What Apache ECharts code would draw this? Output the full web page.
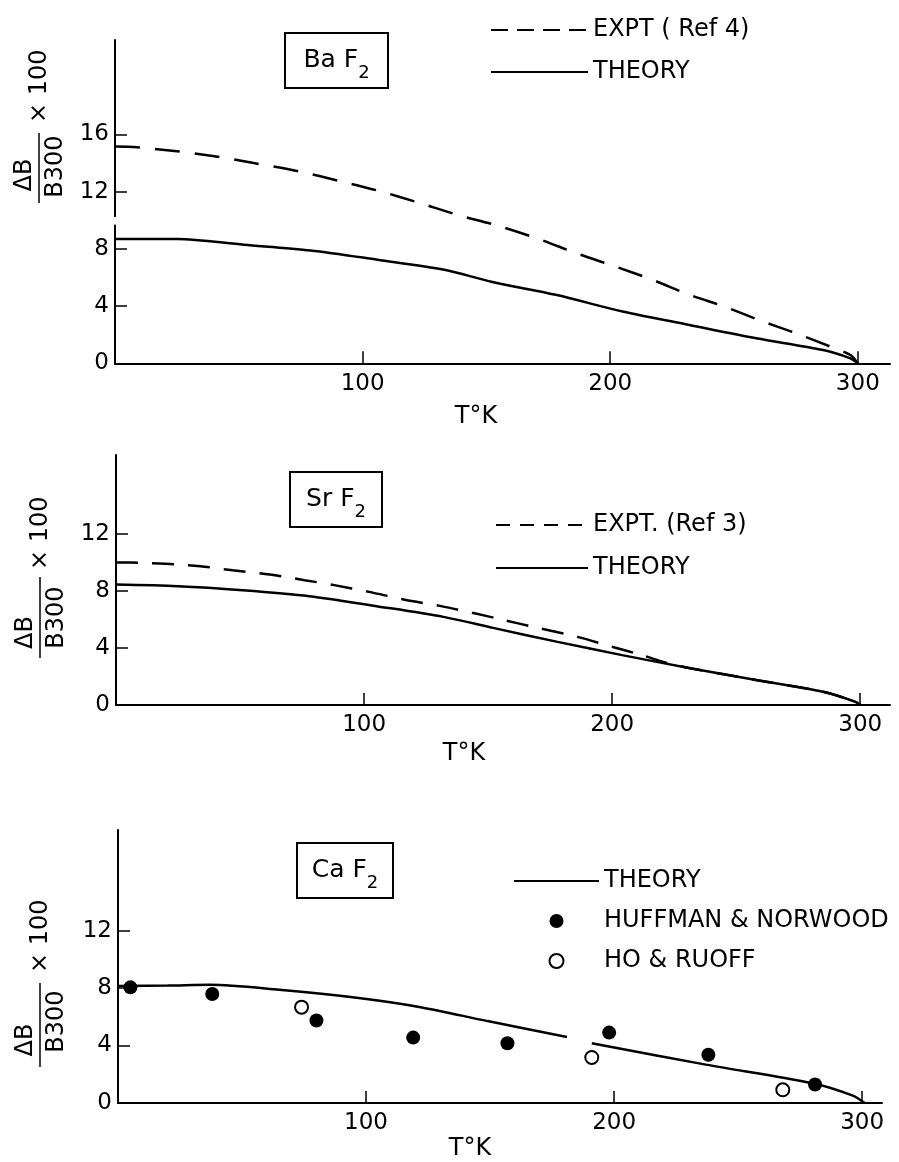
<!DOCTYPE html>
<html><head><meta charset="utf-8">
<script src="https://cdn.jsdelivr.net/npm/echarts@6/dist/echarts.min.js"></script>
<style>html,body{margin:0;padding:0;background:#fff}#c{width:899px;height:1162px}</style>
</head><body><div id="c"></div>
<script>
// ---------- Panel 1: BaF2 ----------
const baExptT = [0, 5, 21, 38, 56, 74, 91, 107, 123, 138, 154, 172, 186, 202, 217, 232, 246, 260, 275, 289, 297, 300];
const baExpt  = [15.15, 15.14, 14.9, 14.53, 14.0, 13.43, 12.73, 12.03, 11.21, 10.39, 9.65, 8.64, 7.71, 6.77, 5.84, 4.79, 3.97, 3.03, 2.1, 1.16, 0.58, 0];
const baTheoryT = [0, 25, 52, 79, 106, 133, 152, 178, 205, 232, 259, 286, 297, 300];
const baTheory  = [8.69, 8.69, 8.29, 7.89, 7.24, 6.54, 5.7, 4.79, 3.62, 2.68, 1.75, 0.93, 0.35, 0];

// ---------- Panel 2: SrF2 ----------
const srExptT = [0, 6, 20, 34, 47, 62, 76, 88, 102, 116, 131, 145, 155, 171, 186, 201, 212, 222, 232, 258, 285, 298, 300];
const srExpt  = [9.97, 9.97, 9.88, 9.71, 9.43, 9.13, 8.74, 8.39, 7.92, 7.38, 6.92, 6.4, 6.0, 5.36, 4.77, 4.03, 3.49, 2.95, 2.56, 1.75, 0.93, 0.23, 0];
const srTheoryT = [0, 25, 51, 78, 105, 132, 152, 178, 204, 232, 258, 285, 298, 300];
const srTheory  = [8.43, 8.32, 8.04, 7.62, 6.92, 6.17, 5.4, 4.42, 3.49, 2.56, 1.75, 0.93, 0.23, 0];

// ---------- Panel 3: CaF2 ----------
const caTheoryT = [0, 20, 37, 65, 97, 122, 149, 181, 186, 191, 237, 280, 296, 301];
const caTheory  = [8.15, 8.17, 8.23, 7.88, 7.31, 6.67, 5.7, 4.6, '-', 4.16, 2.67, 1.38, 0.53, 0];
const caHuffT = [5, 38, 80, 119, 157, 198, 238, 281];
const caHuff  = [8.05, 7.59, 5.74, 4.55, 4.16, 4.9, 3.36, 1.29];
const caHoT = [74, 191, 268];
const caHo  = [6.67, 3.17, 0.92];

// ---------- Ticks / labels ----------
const xTicks = [100, 200, 300];
const yTicks1 = [4, 8, 12, 16];
const yLabels1 = [0, 4, 8, 12, 16];
const yTicks23 = [4, 8, 12];
const yLabels23 = [0, 4, 8, 12];

const FONT = "'DejaVu Sans', sans-serif";
const pairs = (xs, ys) => xs.map((x, i) => [x, ys[i]]);

function xAx(gi, max, nameGap, shift) {
  return {
    gridIndex: gi, type: 'value', min: 0, max: max,
    axisLine: { show: true, onZero: false, lineStyle: { color: '#000', width: 2 } },
    axisTick: { show: true, inside: true, length: 12, customValues: xTicks, lineStyle: { color: '#000', width: 1.5 } },
    axisLabel: { show: true, customValues: xTicks, fontSize: 23, margin: 9, color: '#000', fontFamily: FONT },
    splitLine: { show: false },
    name: 'T°K', nameLocation: 'middle', nameGap: nameGap,
    nameTextStyle: { fontSize: 24, color: '#000', fontFamily: FONT, padding: [0, shift, 0, 0] }
  };
}
function yAx(gi, max, ticks, labels) {
  return {
    gridIndex: gi, type: 'value', min: 0, max: max,
    axisLine: { show: true, onZero: false, lineStyle: { color: '#000', width: 2 } },
    axisTick: { show: true, inside: true, length: 12, customValues: ticks, lineStyle: { color: '#000', width: 1.5 } },
    axisLabel: { show: true, customValues: labels, fontSize: 23, margin: 6, color: '#000', fontFamily: FONT },
    splitLine: { show: false }
  };
}
function lineS(name, xi, xs, ys, dash) {
  return {
    type: 'line', name: name, xAxisIndex: xi, yAxisIndex: xi,
    data: pairs(xs, ys), symbol: 'none', smooth: 0.3, connectNulls: false,
    lineStyle: { color: '#000', width: 2.5, type: dash || 'solid' },
    itemStyle: { color: '#000' }
  };
}
function legendCfg(top, left, itemWidth, gap, data) {
  return {
    orient: 'vertical', top: top, left: left, itemWidth: itemWidth, itemHeight: 14, itemGap: gap,
    selectedMode: false, data: data,
    textStyle: { fontSize: 24, color: '#000', fontFamily: FONT }
  };
}
function boxLabel(x, y, w, h, main) {
  return [
    { type: 'rect', z: 100, shape: { x: x, y: y, width: w, height: h }, style: { fill: 'none', stroke: '#000', lineWidth: 2 } },
    { type: 'text', z: 100, x: x + w / 2, y: y + h / 2,
      style: { text: '{m|' + main + '}{s|2}', align: 'center', verticalAlign: 'middle', textAlign: 'center', textVerticalAlign: 'middle',
        fill: '#000', rich: { m: { fontSize: 25, fontFamily: FONT, fill: '#000' }, s: { fontSize: 18, fontFamily: FONT, fill: '#000', padding: [26, 0, 0, 0] } } } }
  ];
}
function yName(cx, cy, L, dOff, bOff, xStart) {
  const st = (t, al, va) => ({ text: t, fill: '#000', font: '24px ' + FONT, align: al, verticalAlign: va, textAlign: al, textVerticalAlign: va });
  return {
    type: 'group', x: cx, y: cy, rotation: Math.PI / 2, z: 100,
    children: [
      { type: 'line', shape: { x1: -L / 2, y1: 0, x2: L / 2, y2: 0 }, style: { stroke: '#000', lineWidth: 1.5 } },
      { type: 'text', x: dOff, y: -2, style: st('ΔB', 'center', 'bottom') },
      { type: 'text', x: bOff, y: 5, style: st('B300', 'center', 'top') },
      { type: 'text', x: xStart, y: 1, style: st('× 100', 'left', 'middle') }
    ]
  };
}

const chart = echarts.init(document.getElementById('c'), null, { renderer: 'canvas' });
const option = {
  animation: false,
  backgroundColor: '#fff',
  grid: [
    { left: 115, top: 40, width: 775, height: 323.3 },
    { left: 116, top: 455, width: 774, height: 250 },
    { left: 118, top: 830, width: 764, height: 276 }
  ],
  xAxis: [xAx(0, 313, 41, 53), xAx(1, 312, 37, 78), xAx(2, 308, 34, 60)],
  yAxis: [yAx(0, 22.6, yTicks1, yLabels1), yAx(1, 17.5, yTicks23, yLabels23), yAx(2, 19, yTicks23, yLabels23)],
  legend: [
    legendCfg(13, 485, 97, 18, [{ name: 'EXPT ( Ref 4)', lineStyle: { type: [17, 9] }, itemStyle: { opacity: 0 } }, { name: 'THEORY', itemStyle: { opacity: 0 } }]),
    legendCfg(508, 490, 92, 19, [{ name: 'EXPT. (Ref 3)', lineStyle: { type: [14, 10] }, itemStyle: { opacity: 0 } }, { name: 'THEORY', itemStyle: { opacity: 0 } }]),
    legendCfg(864, 508, 85, 16, [{ name: 'THEORY', itemStyle: { opacity: 0 } }, 'HUFFMAN & NORWOOD', 'HO & RUOFF'])
  ],
  series: [
    lineS('EXPT ( Ref 4)', 0, baExptT, baExpt, [25, 15]),
    lineS('THEORY', 0, baTheoryT, baTheory),
    lineS('EXPT. (Ref 3)', 1, srExptT, srExpt, [22, 14]),
    lineS('THEORY', 1, srTheoryT, srTheory),
    lineS('THEORY', 2, caTheoryT, caTheory),
    { type: 'scatter', name: 'HUFFMAN & NORWOOD', xAxisIndex: 2, yAxisIndex: 2, data: pairs(caHuffT, caHuff),
      symbol: 'circle', symbolSize: 14, itemStyle: { color: '#000', opacity: 1 } },
    { type: 'scatter', name: 'HO & RUOFF', xAxisIndex: 2, yAxisIndex: 2, data: pairs(caHoT, caHo),
      symbol: 'circle', symbolSize: 13, itemStyle: { color: '#fff', borderColor: '#000', borderWidth: 2, opacity: 1 } }
  ]
};
chart.setOption(option);

// axis break on the BaF2 y-axis (between ~9.7 and ~10.2)
const pTop = chart.convertToPixel({ gridIndex: 0 }, [0, 10.23]);
const pBot = chart.convertToPixel({ gridIndex: 0 }, [0, 9.69]);
chart.setOption({
  graphic: [
    { type: 'rect', z: 100, shape: { x: pTop[0] - 4, y: pTop[1], width: 8, height: pBot[1] - pTop[1] }, style: { fill: '#fff' } },
    ...boxLabel(285, 33, 103, 55, 'Ba F'),
    ...boxLabel(290, 472, 92, 55, 'Sr F'),
    ...boxLabel(297, 843, 96, 55, 'Ca F'),
    yName(39, 168, 70, -7, 1.5, 45),
    yName(40, 617.5, 81, -15, 0, 47.5),
    yName(40, 1025, 84, -15, 3.5, 52)
  ]
});
</script>
</body></html>
